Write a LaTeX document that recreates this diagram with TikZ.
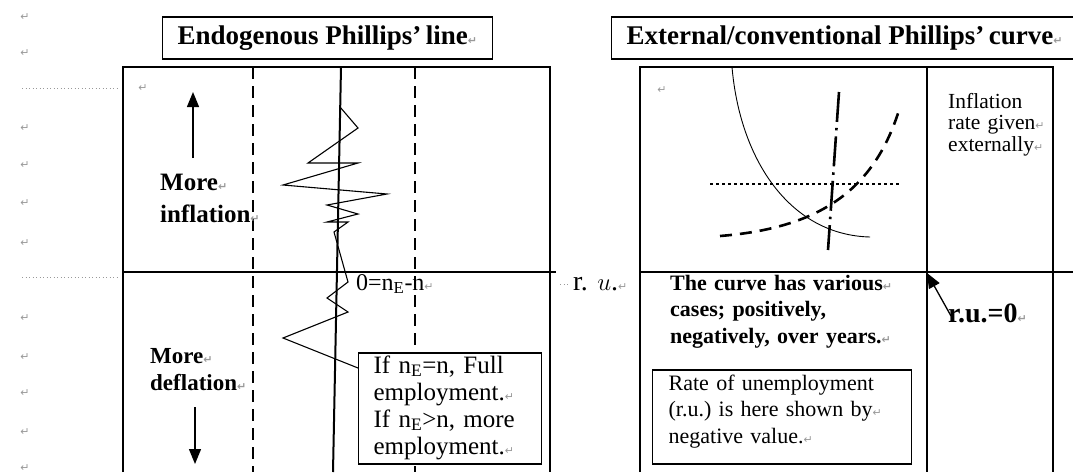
\documentclass[tikz,border=0pt]{standalone}
\usepackage{fontspec}
\setmainfont{Liberation Serif}
\newfontfamily\retfont{DejaVu Sans}
\usetikzlibrary{arrows.meta}
\frenchspacing
% Word's paragraph mark, as the screenshot shows it
\newcommand{\retmk}{{\retfont\color{black!40}\fontsize{11}{11}\selectfont ↵}}

\begin{document}
\begin{tikzpicture}[x=1pt,y=-1pt,
    frame/.style={line width=1.4pt},
    axisline/.style={line width=2.4pt},
    bigdash/.style={line width=2.6pt, dash pattern=on 12pt off 7pt},
    titlebox/.style={draw, line width=1.2pt, anchor=west, inner xsep=15pt,
        minimum height=42pt, font=\bfseries\fontsize{27}{30}\selectfont},
    lbl/.style={anchor=base west, inner sep=0pt, align=left, text width=260pt},
    notebox/.style={draw, fill=white, line width=1.2pt, anchor=base west, align=left,
        inner ysep=4pt, text height=16pt},
    retmark/.style={text=black!40, font=\retfont\fontsize{11}{11}\selectfont, inner sep=0pt},
    leader/.style={black!40, line width=1pt, dash pattern=on 1pt off 2.5pt},
    bigarrow/.style={-{Triangle[length=15pt,width=12pt]}, line width=1.3pt}]
    \useasboundingbox (0,0) rectangle (1073,472);

    % Titles
    \node[titlebox] (endo) at (162,38) {Endogenous Phillips’\,line\retmk};
    \node[titlebox] (extl) at (611,38) {External/conventional Phillips’\,curve\retmk};

    % Marks in the margin
    \foreach \y in {17,53,128,165,203,243,318,357,393,432,468}
        \node[retmark] (m\y) at (25,\y) {↵};
    \node[retmark] (mleft) at (143,88) {↵};
    \node[retmark] (mright) at (662,90) {↵};
    \draw[leader] (22,88) -- (120,88);
    \draw[leader] (22,277) -- (120,277);
    \draw[leader] (560,284) -- (569,284);

    % Left panel
    \draw[frame] (123,472) -- (123,67) -- (550,67) -- (550,472);
    \draw[axisline] (123,272) -- (556,272);
    \draw[bigdash] (253,67) -- (253,472);
    \draw[bigdash] (415,67) -- (415,472);
    \draw[line width=2pt] (341,67) -- (333,472);
    \draw[line width=1.1pt] (340,107) -- (358,128) -- (308,163) -- (358,163)
        -- (283,185) -- (387,194) -- (327,205) -- (358,214) -- (327,222)
        -- (348,222) -- (334,232) -- (348,282) -- (327,298) -- (348,312)
        -- (283,338) -- (358,368);

    \coordinate (uptail) at (193,158);
    \coordinate (uphead) at (193,92);
    \draw[bigarrow] (uptail) -- (uphead);
    \coordinate (dntail) at (195,407);
    \coordinate (dnhead) at (195,464);
    \draw[bigarrow] (dntail) -- (dnhead);

    \node[lbl, font=\bfseries\fontsize{25}{32}\selectfont] (moreinf) at (160,190)
        {More\retmk\\inflation\retmk};
    \node[lbl, font=\bfseries\fontsize{23}{27}\selectfont] (moredef) at (150,363)
        {More\retmk\\deflation\retmk};
    \node[lbl, font=\fontsize{24}{27}\selectfont] (zero) at (356,290)
        {0=n\textsubscript{E}-n\retmk};
    \node[notebox, inner xsep=15pt, text width=153pt, text depth=87pt,
        font=\fontsize{25}{27}\selectfont] (ifbox) at (358,373)
        {If n\textsubscript{E}=n, Full\\employment.\retmk\\If n\textsubscript{E}>n, more\\employment.\retmk};

    % Right panel
    \draw[frame] (640,472) -- (640,67) -- (1053,67) -- (1053,472);
    \draw[axisline] (927,67) -- (927,472);
    \draw[axisline] (640,272) -- (1073,272);
    \draw[line width=0.9pt] (732,67) .. controls (740,160) and (790,235) .. (870,237);
    \draw[line width=2.6pt, dash pattern=on 12pt off 8pt]
        (720,236) .. controls (820,228) and (875,190) .. (900,107);
    \draw[line width=2.6pt, dash pattern=on 30pt off 6pt on 2.5pt off 6pt] (839,92) -- (828,250);
    \draw[line width=2.6pt, dash pattern=on 2.5pt off 3.5pt] (710,184) -- (900,184);

    \node[lbl, font=\fontsize{21.5}{21.5}\selectfont] (given) at (948,108)
        {Inflation\\rate given\retmk\\externally\retmk};
    \node[lbl, font=\fontsize{28}{30}\selectfont] (ru) at (573,290) {r.~$u$.\retmk};
    \node[lbl, font=\bfseries\fontsize{22}{26.5}\selectfont] (cases) at (670,290)
        {The curve has various\retmk\\cases; positively,\\negatively, over years.\retmk};
    \node[notebox, inner xsep=16pt, text width=227pt, text depth=70pt,
        font=\fontsize{22}{26.5}\selectfont] (ratebox) at (652,390)
        {Rate of unemployment\\(r.u.) is here shown by\retmk\\negative value.\retmk};
    \node[lbl, font=\bfseries\fontsize{28}{30}\selectfont] (ruzero) at (948,322) {r.u.=0\retmk};
    \coordinate (rutail) at (951,316);
    \coordinate (origin) at (927,273);
    \draw[bigarrow] (rutail) -- (origin);
\end{tikzpicture}
\end{document}
